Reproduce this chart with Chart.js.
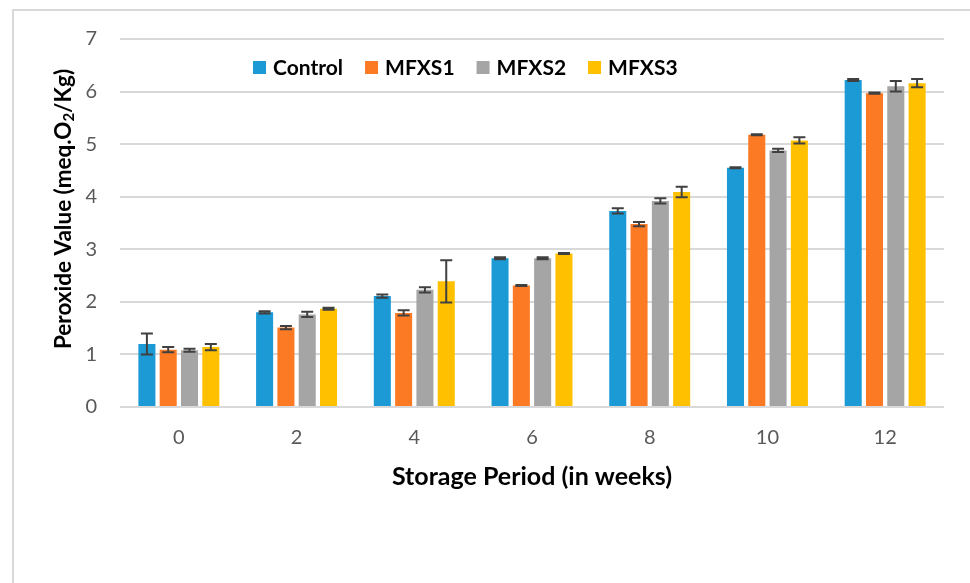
<!DOCTYPE html>
<html>
<head>
<meta charset="utf-8">
<script src="https://cdn.jsdelivr.net/npm/chart.js@4.4.1/dist/chart.umd.min.js"></script>
<style>
  html, body { margin: 0; padding: 0; background: #ffffff; overflow: hidden; }
  #wrap { position: relative; width: 970px; height: 583px; }
  #frame { position: absolute; left: 12px; top: 9px; width: 1000px; height: 600px;
           border-left: 2px solid #d9d9d9; border-top: 2px solid #d9d9d9; }
  canvas { position: absolute; left: 0; top: 0; }
</style>
</head>
<body>
<div id="wrap">
  <div id="frame"></div>
  <canvas id="chart" width="970" height="583"></canvas>
</div>
<script>
// Storage weeks on the x axis
const weeks = ['0', '2', '4', '6', '8', '10', '12'];

// Peroxide value (meq O2/kg) per treatment, with standard deviations
const seriesNames = ['Control', 'MFXS1', 'MFXS2', 'MFXS3'];
const control  = [1.20, 1.80, 2.11, 2.83, 3.73, 4.55, 6.22];
const mfxs1    = [1.09, 1.51, 1.79, 2.31, 3.48, 5.18, 5.97];
const mfxs2    = [1.08, 1.76, 2.23, 2.83, 3.92, 4.88, 6.10];
const mfxs3    = [1.14, 1.87, 2.39, 2.92, 4.09, 5.07, 6.16];
const controlErr = [0.20, 0.02, 0.03, 0.02, 0.05, 0.01, 0.02];
const mfxs1Err   = [0.05, 0.03, 0.05, 0.01, 0.04, 0.01, 0.01];
const mfxs2Err   = [0.03, 0.05, 0.05, 0.02, 0.05, 0.03, 0.10];
const mfxs3Err   = [0.06, 0.02, 0.40, 0.01, 0.10, 0.06, 0.08];
const yTicks = [0, 1, 2, 3, 4, 5, 6, 7];

const seriesColors = ['#1b9ad6', '#fd7a24', '#a5a5a5', '#ffc000'];
const seriesValues = [control, mfxs1, mfxs2, mfxs3];
const seriesErrors = [controlErr, mfxs1Err, mfxs2Err, mfxs3Err];

const FONT = 'Lato, "Open Sans", "Liberation Sans", sans-serif';

// Standard-deviation whiskers drawn on top of each bar
const errorBars = {
  id: 'errorBars',
  afterDatasetsDraw(chart) {
    const ctx = chart.ctx;
    const y = chart.scales.y;
    ctx.save();
    ctx.strokeStyle = '#404040';
    ctx.lineWidth = 2;
    chart.data.datasets.forEach((ds, d) => {
      const meta = chart.getDatasetMeta(d);
      const errs = seriesErrors[d];
      meta.data.forEach((bar, i) => {
        const v = ds.data[i];
        const e = errs[i];
        const top = y.getPixelForValue(v + e);
        const bot = y.getPixelForValue(v - e);
        const half = 6;
        ctx.beginPath();
        ctx.moveTo(bar.x, top); ctx.lineTo(bar.x, bot);
        ctx.moveTo(bar.x - half, top); ctx.lineTo(bar.x + half, top);
        ctx.moveTo(bar.x - half, bot); ctx.lineTo(bar.x + half, bot);
        ctx.stroke();
      });
    });
    ctx.restore();
  }
};

// Single-row legend placed inside the plot area
const innerLegend = {
  id: 'innerLegend',
  afterDraw(chart) {
    const ctx = chart.ctx;
    ctx.save();
    ctx.font = 'bold 21px ' + FONT;
    ctx.textBaseline = 'middle';
    ctx.textAlign = 'left';
    let x = 253;
    const cy = 67;
    chart.data.datasets.forEach((ds) => {
      ctx.fillStyle = ds.backgroundColor;
      ctx.fillRect(x, cy - 6, 13, 13);
      x += 20;
      ctx.fillStyle = '#000000';
      ctx.fillText(ds.label, x, cy + 1);
      x += ctx.measureText(ds.label).width + 22;
    });
    ctx.restore();
  }
};

// Vertical axis title with a subscripted "2"
const yTitle = {
  id: 'yTitle',
  afterDraw(chart) {
    const ctx = chart.ctx;
    const parts = [
      { t: 'Peroxide Value (meq.O', f: 'bold 22.5px ' + FONT, dy: 0 },
      { t: '2', f: 'bold 15px ' + FONT, dy: 5 },
      { t: '/Kg)', f: 'bold 22.5px ' + FONT, dy: 0 }
    ];
    ctx.save();
    let total = 0;
    parts.forEach(p => { ctx.font = p.f; p.w = ctx.measureText(p.t).width; total += p.w; });
    ctx.translate(64, 209);
    ctx.rotate(-Math.PI / 2);
    ctx.fillStyle = '#000000';
    ctx.textBaseline = 'middle';
    ctx.textAlign = 'left';
    let x = -total / 2;
    parts.forEach(p => { ctx.font = p.f; ctx.fillText(p.t, x, p.dy); x += p.w; });
    ctx.restore();
  }
};

new Chart(document.getElementById('chart'), {
  type: 'bar',
  data: {
    labels: weeks,
    datasets: seriesNames.map((name, i) => ({
      label: name,
      data: seriesValues[i],
      backgroundColor: seriesColors[i],
      borderWidth: 0,
      categoryPercentage: 0.724,
      barPercentage: 0.8
    }))
  },
  options: {
    responsive: false,
    animation: false,
    layout: { padding: { left: 0, top: 39, right: 26, bottom: 0 } },
    plugins: {
      legend: { display: false },
      tooltip: { enabled: false }
    },
    scales: {
      x: {
        grid: { display: false, drawTicks: false },
        border: { display: false },
        ticks: { color: '#595959', font: { family: FONT, size: 20 }, padding: 19 },
        title: {
          display: true,
          text: 'Storage Period (in weeks)',
          color: '#000000',
          font: { family: FONT, size: 25, weight: 'bold' },
          padding: { top: 0, bottom: 91 }
        },
        afterFit(scale) { scale.height = 176; }
      },
      y: {
        min: 0,
        max: 7,
        afterBuildTicks(scale) { scale.ticks = yTicks.map(v => ({ value: v })); },
        grid: { color: '#d9d9d9', lineWidth: 2, drawTicks: false },
        border: { display: false },
        ticks: { color: '#595959', font: { family: FONT, size: 20 }, padding: 23 },
        afterFit(scale) { scale.width = 120; }
      }
    }
  },
  plugins: [errorBars, innerLegend, yTitle]
});
</script>
</body>
</html>
